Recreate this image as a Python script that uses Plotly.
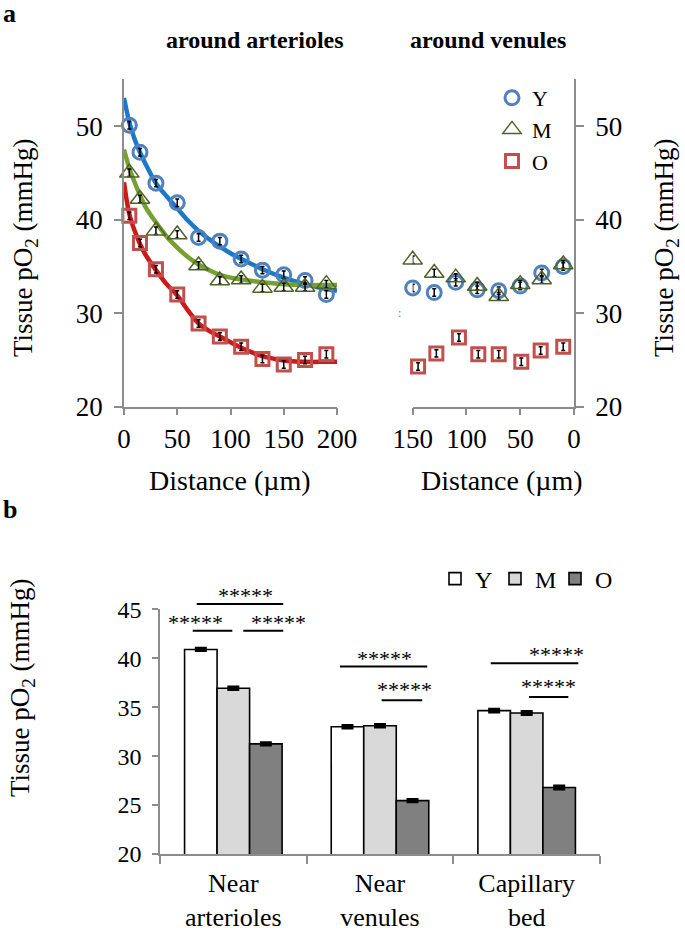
import plotly.graph_objects as go

W, H = 685, 930

# ---- panel a: around arterioles (distance from vessel, um) ----
art_x = [5, 15, 30, 50, 70, 90, 110, 130, 150, 170, 190]
art_Y = [50.1, 47.2, 43.9, 41.8, 38.1, 37.7, 35.8, 34.6, 34.1, 33.5, 32.0]
art_M = [45.0, 42.2, 38.8, 38.4, 35.1, 33.5, 33.6, 32.7, 32.8, 32.8, 33.1]
art_O = [40.4, 37.5, 34.7, 32.0, 28.9, 27.5, 26.4, 25.1, 24.5, 25.0, 25.6]
art_err = [0.4, 0.4, 0.4, 0.4, 0.4, 0.4, 0.4, 0.4, 0.4, 0.4, 0.4]

# fitted curves
fit_x = [0, 5, 10, 15, 20, 30, 40, 50, 60, 70, 80, 90, 100, 110, 130, 150, 170, 190, 200]
fit_Y = [53.0, 50.4, 48.6, 47.2, 46.0, 43.9, 42.5, 41.2, 39.9, 38.8, 37.9, 37.1, 36.4, 35.8, 34.7, 33.8, 33.1, 32.6, 32.4]
fit_M = [47.5, 45.5, 44.0, 42.6, 41.4, 39.7, 38.2, 37.0, 36.0, 35.2, 34.6, 34.1, 33.8, 33.6, 33.3, 33.1, 33.0, 33.0, 33.0]
fit_O = [44.0, 40.6, 38.8, 37.4, 36.3, 34.6, 33.1, 31.9, 30.3, 28.9, 28.1, 27.5, 26.9, 26.3, 25.4, 24.95, 24.8, 24.8, 24.8]

# ---- panel a: around venules ----
ven_x = [150, 130, 110, 90, 70, 50, 30, 10]
ven_xO = [145, 128, 107, 89, 70, 49, 31, 10]
ven_Y = [32.7, 32.2, 33.3, 32.5, 32.4, 32.9, 34.3, 35.0]
ven_M = [35.7, 34.3, 33.8, 32.9, 31.8, 33.1, 33.6, 35.2]
ven_O = [24.3, 25.7, 27.4, 25.6, 25.6, 24.8, 26.0, 26.4]
ven_err = [0.4, 0.4, 0.4, 0.4, 0.4, 0.4, 0.4, 0.4]

# ---- panel b ----
cats = ["Near<br>arterioles", "Near<br>venules", "Capillary<br>bed"]
bar_Y = [40.9, 33.0, 34.65]
bar_M = [36.93, 33.1, 34.4]
bar_O = [31.25, 25.45, 26.8]
bar_err = [0.12, 0.12, 0.15]

# significance brackets: (category index, x0 offset, x1 offset, line y, star x offset, star y)
sig = [
    (0, -0.25, 0.34, 45.55, 0.08, 46.45),
    (0, -0.277, -0.007, 42.8, -0.26, 43.7),
    (0, 0.068, 0.34, 42.8, 0.307, 43.7),
    (1, -0.273, 0.322, 39.15, 0.034, 40.0),
    (1, 0.011, 0.288, 35.7, 0.166, 36.8),
    (2, -0.245, 0.352, 39.5, 0.2, 40.35),
    (2, 0.016, 0.284, 36.05, 0.147, 37.1),
]

SERIF = "Liberation Serif"
AX = "#8c8c8c"

C_Y, C_M, C_O = "#4f81bd", "#4f6228", "#c0504d"
L_Y, L_M, L_O = "#1e78c8", "#77a032", "#cc1a1a"

def px(x):
    return x / W

def py(y):
    return 1 - y / H

ya_dom = [py(406.7), py(79.3)]
yb_dom = [py(854), py(609.3)]
YB = (20, 45)

def yb_paper(v):
    # panel b value -> paper coordinate (so brackets above the axis top are not clipped)
    return yb_dom[0] + (v - YB[0]) / (YB[1] - YB[0]) * (yb_dom[1] - yb_dom[0])

fig = go.Figure()

# fitted curves
for ys, col in [(fit_Y, L_Y), (fit_M, L_M), (fit_O, L_O)]:
    fig.add_trace(go.Scatter(x=fit_x, y=ys, mode="lines", line=dict(color=col, width=4.5, shape="spline"),
                             showlegend=False, hoverinfo="skip", xaxis="x", yaxis="y"))

errs = dict(type="data", color="black", thickness=1.5, width=2)
marks = [
    ("Y", art_Y, ven_Y, ven_x, dict(symbol="circle-open", size=14, color=C_Y, line=dict(width=3, color=C_Y))),
    ("M", art_M, ven_M, ven_x, dict(symbol="triangle-up-open", size=17, color=C_M, line=dict(width=1.5, color=C_M))),
    ("O", art_O, ven_O, ven_xO, dict(symbol="square-open", size=13, color=C_O, line=dict(width=3, color=C_O))),
]
for name, ya, yv, xv, mk in marks:
    fig.add_trace(go.Scatter(x=art_x, y=ya, mode="markers", name=name, marker=mk,
                             error_y=dict(array=art_err, **errs), cliponaxis=False,
                             xaxis="x", yaxis="y", legend="legend"))
    fig.add_trace(go.Scatter(x=xv, y=yv, mode="markers", name=name, marker=mk, showlegend=False,
                             error_y=dict(array=ven_err, **errs), cliponaxis=False,
                             xaxis="x2", yaxis="y2"))

# bars
for name, vals, col in [("Y", bar_Y, "white"), ("M", bar_M, "#d9d9d9"), ("O", bar_O, "#808080")]:
    fig.add_trace(go.Bar(x=cats, y=vals, name=name, marker=dict(color=col, line=dict(color="black", width=1.6)),
                         error_y=dict(type="data", array=bar_err, color="black", thickness=3, width=6),
                         xaxis="x3", yaxis="y3", legend="legend2"))

tickf_a = dict(family=SERIF, size=27, color="black")
tickf_b = dict(family=SERIF, size=24, color="black")

common = dict(showgrid=False, zeroline=False, showline=True, linecolor=AX, linewidth=1.5,
              ticks="outside", tickcolor=AX, tickwidth=1.5, automargin=False, tickangle=0)

fig.update_layout(
    width=W, height=H, margin=dict(l=0, r=0, t=0, b=0, autoexpand=False),
    paper_bgcolor="white", plot_bgcolor="rgba(0,0,0,0)",
    font=dict(family=SERIF, color="black"),
    barmode="group", bargap=0.335, bargroupgap=0,
    xaxis=dict(domain=[px(124), px(337)], anchor="y", range=[0, 200], tickvals=[0, 50, 100, 150, 200],
               ticklen=7, tickfont=tickf_a, **common),
    yaxis=dict(domain=ya_dom, anchor="x", range=[20, 55], tickvals=[20, 30, 40, 50],
               ticklen=8, tickfont=tickf_a, ticklabelstandoff=6, **common),
    xaxis2=dict(domain=[px(412.7), px(574)], anchor="y2", range=[150, 0], tickvals=[0, 50, 100, 150],
                ticklen=7, tickfont=tickf_a, **common),
    yaxis2=dict(domain=ya_dom, anchor="x2", side="right", range=[20, 55], tickvals=[20, 30, 40, 50],
                ticklen=8, tickfont=tickf_a, ticklabelstandoff=6, **common),
    xaxis3=dict(domain=[px(160), px(600)], anchor="y3", range=[-0.5, 2.5], tickson="boundaries",
                ticklen=8, ticklabelstandoff=5, tickfont=dict(family=SERIF, size=26, color="black"), **common),
    yaxis3=dict(domain=yb_dom, anchor="x3", range=list(YB), tickvals=[20, 25, 30, 35, 40, 45],
                ticklen=6, tickfont=tickf_b, ticklabelstandoff=6, **common),
    legend=dict(x=px(492), y=py(77), xanchor="left", yanchor="top", orientation="v",
                font=dict(family=SERIF, size=22, color="black"), bgcolor="rgba(0,0,0,0)",
                itemwidth=30, tracegroupgap=0),
    legend2=dict(x=px(435), y=py(579), xanchor="left", yanchor="middle", orientation="h",
                 font=dict(family=SERIF, size=24, color="black"), bgcolor="rgba(0,0,0,0)",
                 itemwidth=30, entrywidth=15),
)

ann = []
ytitle = "Tissue pO<sub>2</sub> (mmHg)"
ann.append(dict(x=px(25), y=py(248), text=ytitle, textangle=-90, font=dict(size=27)))
ann.append(dict(x=px(666), y=py(248), text=ytitle, textangle=-90, font=dict(size=27)))
ann.append(dict(x=px(22), y=py(688), text=ytitle, textangle=-90, font=dict(size=27)))
ann.append(dict(x=px(230), y=py(480), text="Distance (µm)", font=dict(size=28)))
ann.append(dict(x=px(502), y=py(480), text="Distance (µm)", font=dict(size=28)))
ann.append(dict(x=px(255), y=py(40), text="<b>around arterioles</b>", font=dict(size=24)))
ann.append(dict(x=px(488), y=py(40), text="<b>around venules</b>", font=dict(size=24)))
ann.append(dict(x=px(9), y=py(13), text="<b>a</b>", font=dict(size=26)))
ann.append(dict(x=px(10), y=py(510), text="<b>b</b>", font=dict(size=26)))
ann.append(dict(x=px(399), y=py(313), text=":", font=dict(size=12, color="#777")))

for ci, x0, x1, ly, sx, sy in sig:
    fig.add_shape(type="line", xref="x3", yref="paper", x0=ci + x0, x1=ci + x1,
                  y0=yb_paper(ly), y1=yb_paper(ly), line=dict(color="black", width=2))
    ann.append(dict(x=ci + sx, y=yb_paper(sy), xref="x3", yref="paper", text="*****", font=dict(size=22)))

for a in ann:
    a.setdefault("xref", "paper")
    a.setdefault("yref", "paper")
    a.setdefault("showarrow", False)
    a.setdefault("xanchor", "center")
    a.setdefault("yanchor", "middle")
    a["font"] = dict(family=SERIF, color=a["font"].get("color", "black"), size=a["font"]["size"])
fig.update_layout(annotations=ann)

fig.write_html("out.html", config={"displayModeBar": False},
               post_script="document.body.style.margin='0';")
